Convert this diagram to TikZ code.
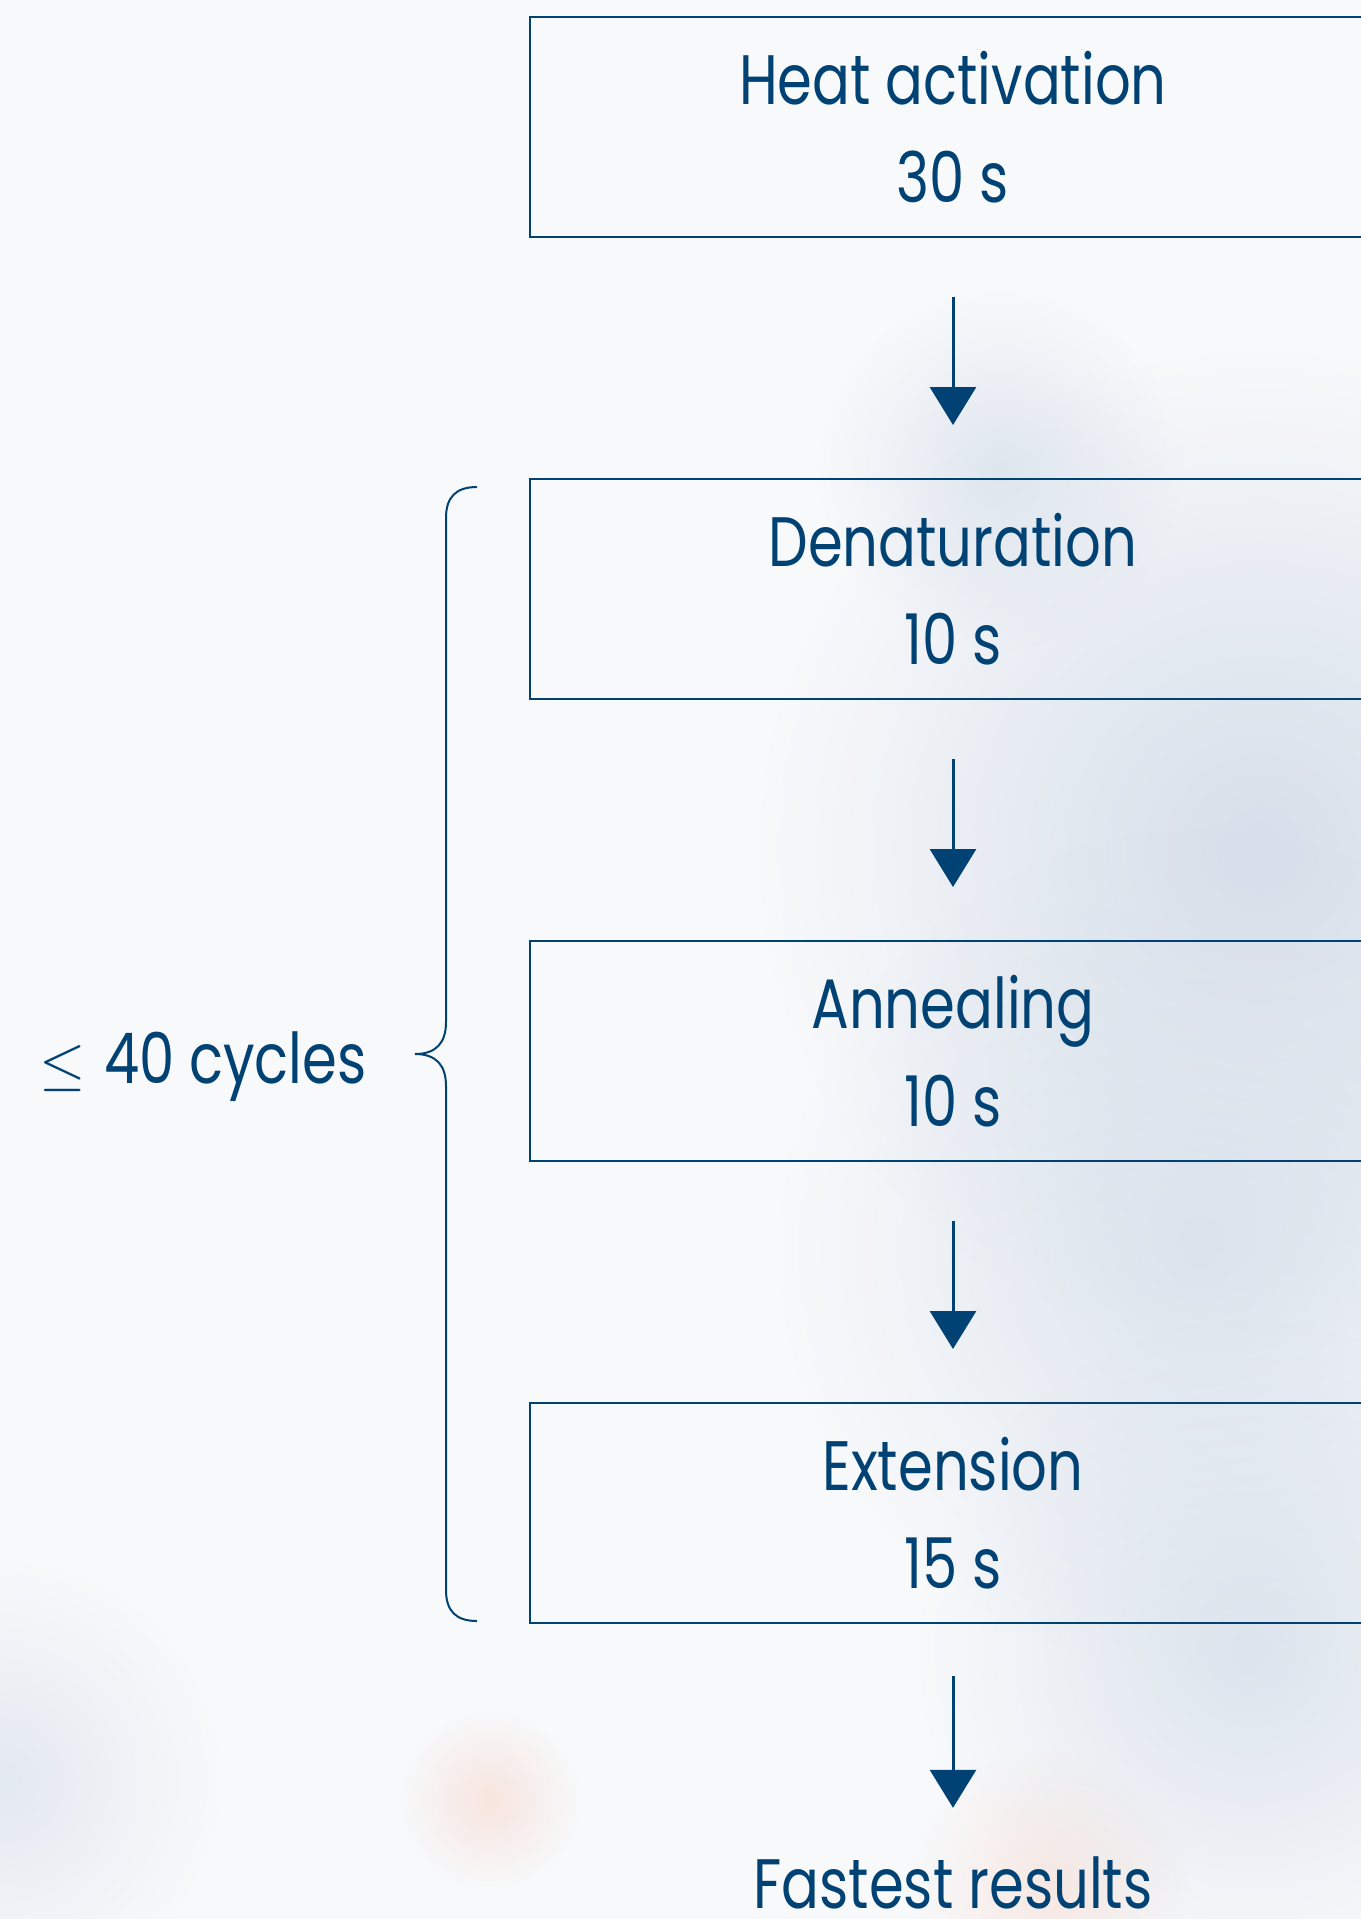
\documentclass[tikz,border=0pt]{standalone}
\usepackage{fontspec}
\setmainfont{Poppins}[FakeStretch=0.8]
\usepackage{xcolor}
\usepackage{tikz}
\usetikzlibrary{positioning,arrows.meta,fadings}

\definecolor{navy}{HTML}{004273}
\definecolor{paper}{HTML}{F8F9FB}
\definecolor{mist}{HTML}{D6DFEA}
\definecolor{peach}{HTML}{F7D8CC}
\tikzfading[name=softspot, inner color=transparent!0, outer color=transparent!100]

\begin{document}
\begin{tikzpicture}[x=0.5pt,y=-0.5pt,
  stepbox/.style={draw=navy, line width=1pt, minimum width=423pt, minimum height=110pt,
    align=center, text=navy, inner sep=0pt, font=\fontsize{35}{49}\selectfont},
  flow/.style={draw=navy, line width=1.5pt, -{Triangle[length=19pt,width=23pt]},
    shorten <=29.5pt, shorten >=26.5pt},
  node distance=120pt]
\useasboundingbox (0,0) rectangle (1361,1919);
\clip (0,0) rectangle (1361,1919);

% background
\fill[paper] (0,0) rectangle (1361,1919);
\fill[mist, path fading=softspot] (1260,850) circle (500);
\fill[mist, path fading=softspot, opacity=0.8] (1200,1250) circle (420);
\fill[mist, path fading=softspot, opacity=0.7] (1000,470) circle (180);
\fill[mist, path fading=softspot, opacity=0.8] (1250,1650) circle (330);
\fill[mist, path fading=softspot, opacity=0.6] (0,1780) circle (220);
\fill[peach, path fading=softspot, opacity=0.6] (490,1800) circle (90);
\fill[peach, path fading=softspot, opacity=0.5] (1050,1890) circle (140);

% steps
\node[stepbox] (heat) at (953,127) {Heat activation\\30 s};
\node[stepbox, below=of heat] (denat) {Denaturation\\10 s};
\node[stepbox, below=of denat] (anneal) {Annealing\\10 s};
\node[stepbox, below=of anneal] (ext) {Extension\\15 s};
\node[text=navy, anchor=base, inner sep=0pt, font=\fontsize{35}{49}\selectfont]
  (result) at (953,1908) {Fastest results};

\draw[flow] (heat) -- (denat);
\draw[flow] (denat) -- (anneal);
\draw[flow] (anneal) -- (ext);
\draw[flow, shorten <=26pt, shorten >=24pt] (ext) -- (result);

% cycle brace
\coordinate (tip) at (415,1054);
\draw[navy, line width=1pt] (477,487) .. controls (456,487) and (446,497) .. (446,518)
  -- (446,1022) .. controls (446,1043) and (436,1054) .. (tip)
  .. controls (436,1054) and (446,1065) .. (446,1086)
  -- (446,1590) .. controls (446,1611) and (456,1621) .. (477,1621);
\node[text=navy, anchor=base east, inner sep=0pt, font=\fontsize{35}{49}\selectfont]
  (cycles) at (367,1083) {\scalebox{1.2}{$\leq$}\kern9pt 40 cycles};
\end{tikzpicture}
\end{document}
